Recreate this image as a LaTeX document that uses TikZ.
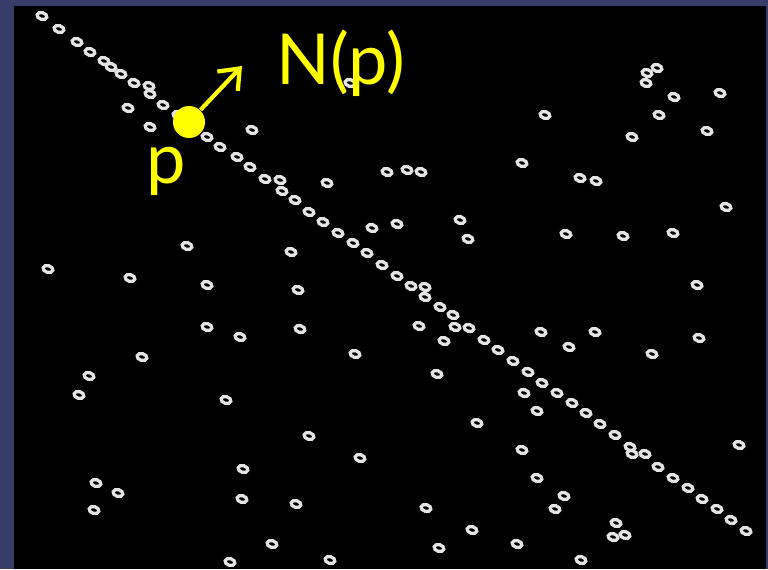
\documentclass[tikz,border=0pt]{standalone}
\usepackage{fontspec}
\setmainfont{Lato}
\usetikzlibrary{arrows.meta}

\definecolor{slate}{RGB}{56,60,104}
\definecolor{hiyellow}{RGB}{255,255,0}
\definecolor{ringwhite}{RGB}{228,228,228}

\begin{document}
\begin{tikzpicture}[
    x=0.01cm, y=-0.01cm,
    ring/.style={draw=ringwhite, line width=0.032cm},
    marker/.style={circle, fill=hiyellow, inner sep=0pt, minimum size=0.32cm},
    lbl/.style={text=hiyellow, inner sep=0pt, anchor=base west, font=\fontsize{20}{24}\selectfont},
    flow/.style={-{Straight Barb[length=5pt,width=8pt]}, draw=hiyellow, line width=0.042cm}
]
\useasboundingbox (0,0) rectangle (768,569);
\fill[slate] (0,0) rectangle (768,569);
\fill[black] (14,6) rectangle (766,569);
% edge pixels along the dominant line
\foreach \x/\y in {42/16,59/29,77/42,90/52,104/61,111/67,121/74,134/83,149/86,150/94,
    163/105,178/115,193/126,207/137,220/147,237/157,250/167,265/179,280/180,282/191,
    295/200,309/212,323/222,338/233,353/243,367/253,382/265,397/276,411/286,425/287,
    425/297,440/307,453/315,455/327,469/328,484/340,498/350,513/361,528/372,542/383,
    557/393,572/403,586/413,600/424,615/435,630/447,632/454,645/454,658/467,673/478,
    688/488,702/499,717/509,731/520,746/531}
  \draw[ring, shift={(\x,\y)}, rotate=-15] (0,0) ellipse [x radius=5, y radius=3.4];
% scattered edge pixels
\foreach \x/\y in {128/108,150/127,252/130,350/83,327/183,387/172,407/170,421/172,
    647/73,657/68,646/83,674/97,720/93,545/115,659/115,632/137,707/131,522/163,580/178,596/181,
    48/269,187/246,130/278,207/285,207/327,240/337,142/357,89/376,79/395,
    372/228,397/224,460/220,468/239,291/252,298/290,300/329,419/326,444/341,355/354,437/374,
    726/207,566/234,623/236,673/233,697/285,541/332,595/332,569/347,652/354,699/338,
    226/400,243/469,242/499,230/562,96/483,118/493,94/510,
    477/423,309/436,360/458,296/504,426/508,472/530,439/548,272/544,330/560,
    524/393,537/411,522/450,537/478,564/496,555/509,739/445,616/523,613/537,625/535,517/544,581/560}
  \draw[ring, shift={(\x,\y)}, rotate=-15] (0,0) ellipse [x radius=5, y radius=3.4];
% point p and its normal
\node[marker] (p) at (189,122) {};
\coordinate (tip) at (242,66);
\draw[flow] (p) -- (tip);
\node[lbl] (nlabel) at (276,84) {N(p)};
\node[lbl] (plabel) at (146,183) {p};
\end{tikzpicture}
\end{document}
